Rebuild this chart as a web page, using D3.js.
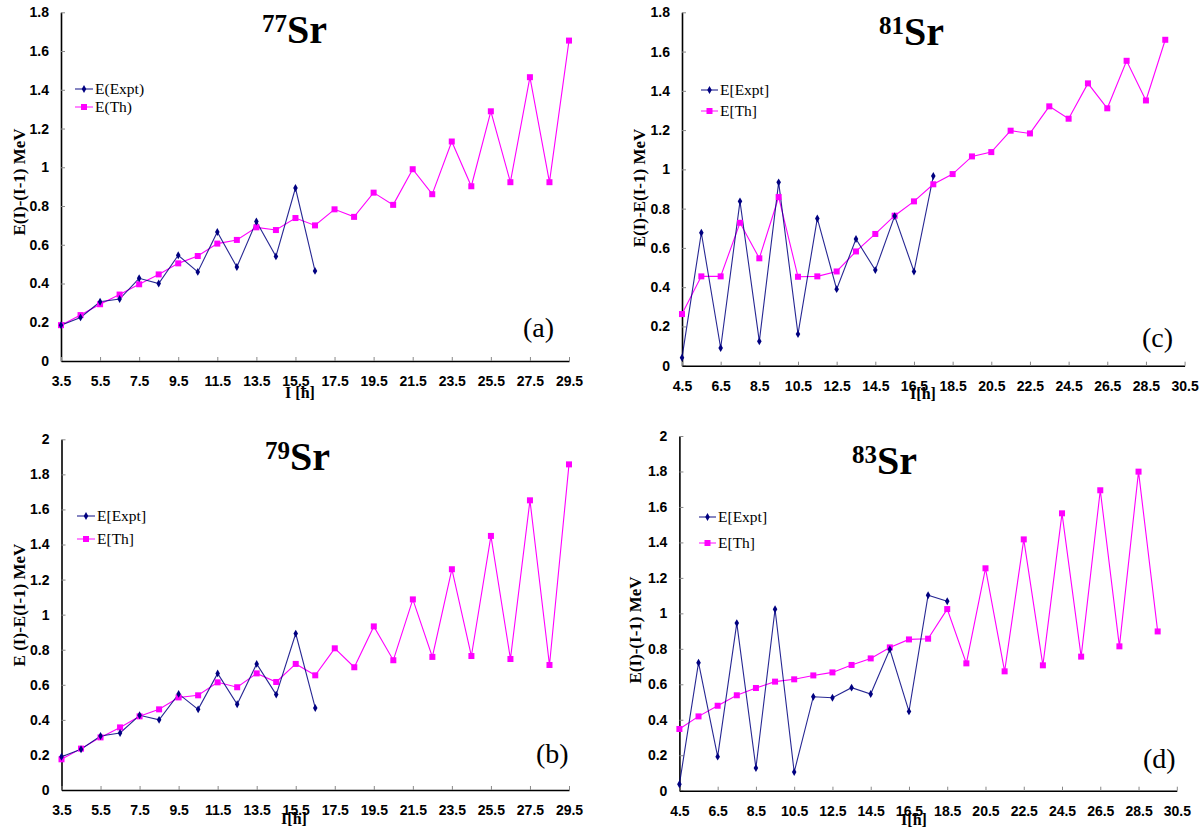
<!DOCTYPE html>
<html><head><meta charset="utf-8">
<script src="https://cdn.jsdelivr.net/npm/d3@7"></script>
<style>body{margin:0;background:#fff}svg{display:block}</style>
</head><body><svg id="c" width="1200" height="827"></svg>
<script>
// ---- data ----
const spinsA = [3.5,4.5,5.5,6.5,7.5,8.5,9.5,10.5,11.5,12.5,13.5,14.5,15.5,16.5,17.5,18.5,19.5,20.5,21.5,22.5,23.5,24.5,25.5,26.5,27.5,28.5,29.5];
const thA   = [0.185,0.237,0.293,0.343,0.396,0.447,0.504,0.542,0.606,0.625,0.690,0.676,0.738,0.700,0.783,0.744,0.869,0.806,0.990,0.861,1.133,0.902,1.289,0.923,1.465,0.923,1.654];
const exptA = [0.185,0.225,0.306,0.320,0.427,0.400,0.546,0.460,0.666,0.485,0.720,0.540,0.893,0.465];

const spinsB = spinsA;
const thB   = [0.175,0.236,0.300,0.357,0.420,0.460,0.528,0.540,0.614,0.586,0.665,0.616,0.719,0.654,0.808,0.700,0.933,0.740,1.087,0.759,1.259,0.764,1.449,0.747,1.652,0.713,1.857];
const exptB = [0.190,0.232,0.308,0.325,0.426,0.400,0.548,0.460,0.665,0.489,0.719,0.544,0.892,0.468];

const spinsC = [4.5,5.5,6.5,7.5,8.5,9.5,10.5,11.5,12.5,13.5,14.5,15.5,16.5,17.5,18.5,19.5,20.5,21.5,22.5,23.5,24.5,25.5,26.5,27.5,28.5,29.5];
const thC   = [0.263,0.455,0.455,0.728,0.547,0.859,0.453,0.455,0.480,0.582,0.671,0.764,0.837,0.924,0.976,1.066,1.088,1.197,1.183,1.321,1.258,1.438,1.311,1.553,1.351,1.660];
const exptC = [0.041,0.677,0.090,0.837,0.124,0.934,0.161,0.750,0.390,0.645,0.487,0.762,0.480,0.966];

const spinsD = spinsC;
const thD   = [0.348,0.419,0.479,0.538,0.579,0.615,0.628,0.650,0.667,0.709,0.746,0.808,0.853,0.857,1.024,0.718,1.254,0.673,1.417,0.707,1.564,0.756,1.694,0.814,1.799,0.898];
const exptD = [0.036,0.722,0.192,0.945,0.128,1.023,0.105,0.530,0.524,0.581,0.545,0.797,0.447,1.102,1.068];

const xTicksAB = [3.5,5.5,7.5,9.5,11.5,13.5,15.5,17.5,19.5,21.5,23.5,25.5,27.5,29.5];
const xTicksCD = [4.5,6.5,8.5,10.5,12.5,14.5,16.5,18.5,20.5,22.5,24.5,26.5,28.5,30.5];
const yTicks18 = [0,0.2,0.4,0.6,0.8,1,1.2,1.4,1.6,1.8];
const yTicks20 = [0,0.2,0.4,0.6,0.8,1,1.2,1.4,1.6,1.8,2];

const massNumbers = ["77","79","81","83"];
const panelTags = ["(a)","(b)","(c)","(d)"];
const yTitles = ["E(I)-(I-1) MeV","E (I)-E(I-1) MeV","E(I)-E(I-1) MeV","E(I)-(I-1) MeV"];
const xTitles = ["I [ħ]","I[ħ]","I[ħ]","I[ħ]"];
const legendA = ["E(Expt)","E(Th)"];
const legendB = ["E[Expt]","E[Th]"];

// ---- drawing ----
const svg = d3.select("#c");
const NAVY = "#000080", MAG = "#ff00ff";

function panel(o){
  const g = svg.append("g");
  const x = d3.scaleLinear().domain(o.xDom).range([o.x0,o.x1]);
  const y = d3.scaleLinear().domain([0,o.yMax]).range([o.y0,o.y1]);
  const fmt = d => String(+d.toFixed(1));

  const ya = g.append("g").attr("transform",`translate(${o.x0},0)`)
    .call(d3.axisLeft(y).tickValues(o.yTicks).tickFormat(fmt).tickSizeInner(-4).tickSizeOuter(0).tickPadding(12));
  const xa = g.append("g").attr("transform",`translate(0,${o.y0})`)
    .call(d3.axisBottom(x).tickValues(o.xTicks).tickFormat(d=>d.toFixed(1)).tickSizeInner(-4).tickSizeOuter(0).tickPadding(15));
  [ya,xa].forEach(a=>{
    a.select(".domain").attr("stroke","#000").attr("stroke-width",1.6);
    a.selectAll(".tick line").attr("stroke","#888").attr("stroke-width",1);
    a.selectAll(".tick text").attr("fill","#000").attr("font-family","Liberation Sans, Arial, sans-serif")
      .attr("font-weight","bold").attr("font-size",14);
  });

  const line = d3.line().x(d=>x(d[0])).y(d=>y(d[1]));
  const th = o.spins.map((s,i)=>[s,o.th[i]]);
  const ex = o.expt.map((v,i)=>[o.spins[i],v]);
  g.append("path").attr("d",line(th)).attr("fill","none").attr("stroke",MAG).attr("stroke-width",1.1);
  g.append("path").attr("d",line(ex)).attr("fill","none").attr("stroke",NAVY).attr("stroke-opacity",0.85).attr("stroke-width",1.1);
  g.selectAll(".sq").data(th).enter().append("rect")
    .attr("x",d=>x(d[0])-3).attr("y",d=>y(d[1])-3).attr("width",6).attr("height",6).attr("fill",MAG);
  const dia = d3.symbol().type(d3.symbolDiamond).size(18);
  g.selectAll(".dm").data(ex).enter().append("path").attr("d",dia)
    .attr("transform",d=>`translate(${x(d[0])},${y(d[1])})`).attr("fill",NAVY);

  // title
  const t = g.append("text").attr("x",o.tx).attr("y",o.ty).attr("font-family","Liberation Serif, Times New Roman, serif")
    .attr("font-weight","bold").attr("fill","#000");
  t.append("tspan").attr("font-size",25).attr("dy",-11).text(o.mass);
  t.append("tspan").attr("font-size",40).attr("dy",11).text("Sr");

  // legend
  const lf = "Liberation Serif, Times New Roman, serif";
  [[NAVY,"d"],[MAG,"s"]].forEach((c,i)=>{
    const ly = o.ly[i];
    g.append("line").attr("x1",o.lx0).attr("x2",o.lx1).attr("y1",ly).attr("y2",ly).attr("stroke",c[0]).attr("stroke-width",1.2).attr("stroke-opacity",0.8);
    const cx = (o.lx0+o.lx1)/2;
    if(c[1]==="d") g.append("path").attr("d",dia).attr("transform",`translate(${cx},${ly})`).attr("fill",NAVY);
    else g.append("rect").attr("x",cx-3).attr("y",ly-3).attr("width",6).attr("height",6).attr("fill",MAG);
    g.append("text").attr("x",o.lx1+2).attr("y",ly+5).attr("font-family",lf).attr("font-size",15.5).attr("fill","#000").text(o.legend[i]);
  });

  // panel tag
  g.append("text").attr("x",o.tagX).attr("y",o.tagY).attr("font-family",lf).attr("font-size",28).attr("fill","#000").text(o.tag);

  // axis titles
  g.append("text").attr("transform",`translate(${o.ytx},${o.yty}) rotate(-90)`).attr("text-anchor","middle")
    .attr("dy","0.35em").attr("font-family",lf).attr("font-weight","bold").attr("font-size",17).text(o.yTitle);
  g.append("text").attr("x",o.xtx).attr("y",o.xty).attr("text-anchor","middle")
    .attr("font-family",lf).attr("font-weight","bold").attr("font-size",16).text(o.xTitle);
}

panel({x0:61,x1:569,xDom:[3.5,29.5],y0:361,y1:12.3,yMax:1.8,yTicks:yTicks18,xTicks:xTicksAB,
  spins:spinsA,th:thA,expt:exptA,mass:massNumbers[0],tx:262,ty:43,
  lx0:75,lx1:93,ly:[89,107],legend:legendA,tag:panelTags[0],tagX:523,tagY:337,
  yTitle:yTitles[0],ytx:19,yty:182,xTitle:xTitles[0],xtx:300,xty:398});
panel({x0:61.5,x1:569,xDom:[3.5,29.5],y0:790,y1:439.3,yMax:2,yTicks:yTicks20,xTicks:xTicksAB,
  spins:spinsB,th:thB,expt:exptB,mass:massNumbers[1],tx:265,ty:470,
  lx0:77,lx1:95,ly:[516,539],legend:legendB,tag:panelTags[1],tagX:536,tagY:763,
  yTitle:yTitles[1],ytx:19,yty:605,xTitle:xTitles[1],xtx:294,xty:824});
panel({x0:682,x1:1184.6,xDom:[4.5,30.5],y0:365.7,y1:12.3,yMax:1.8,yTicks:yTicks18,xTicks:xTicksCD,
  spins:spinsC,th:thC,expt:exptC,mass:massNumbers[2],tx:879,ty:45,
  lx0:701,lx1:718,ly:[90,111],legend:legendB,tag:panelTags[2],tagX:1142,tagY:347,
  yTitle:yTitles[2],ytx:639,yty:188,xTitle:xTitles[2],xtx:923,xty:399});
panel({x0:679.4,x1:1176.8,xDom:[4.5,30.5],y0:790.7,y1:436,yMax:2,yTicks:yTicks20,xTicks:xTicksCD,
  spins:spinsD,th:thD,expt:exptD,mass:massNumbers[3],tx:852,ty:474,
  lx0:699,lx1:716,ly:[517,543],legend:legendB,tag:panelTags[3],tagX:1143,tagY:768,
  yTitle:yTitles[3],ytx:635,yty:630,xTitle:xTitles[3],xtx:914,xty:825});
</script></body></html>
